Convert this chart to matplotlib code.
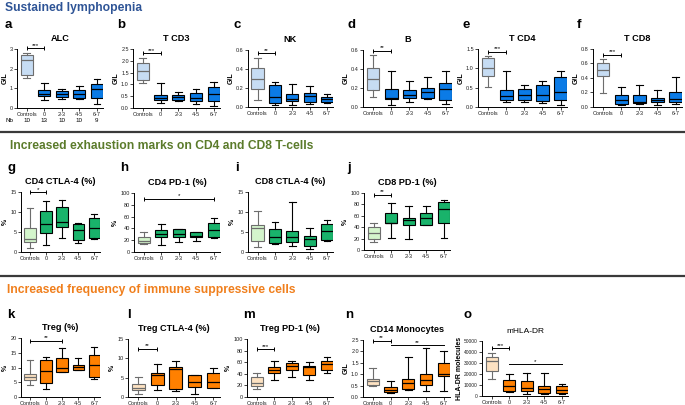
import matplotlib.pyplot as plt
from matplotlib.lines import Line2D

plt.rcParams['font.family'] = ['Liberation Sans', 'DejaVu Sans']

groups = ["Controls", "0", "2-3", "4-5", "6-7"]
nb = [10, 13, 10, 10, 9]

# five-number summaries per group: min, q1, median, q3, max
alc = [[1.55, 1.67, 2.45, 2.70, 2.78], [0.43, 0.60, 0.73, 0.94, 1.29],
       [0.48, 0.56, 0.70, 0.85, 0.99], [0.48, 0.51, 0.73, 0.90, 1.14],
       [0.19, 0.51, 0.99, 1.21, 1.48]]
t_cd3 = [[1.07, 1.18, 1.56, 1.89, 2.10], [0.21, 0.36, 0.44, 0.53, 1.08],
         [0.30, 0.33, 0.47, 0.57, 0.67], [0.18, 0.28, 0.44, 0.65, 0.82],
         [0.10, 0.28, 0.61, 0.91, 1.11]]
nk = [[0.07, 0.19, 0.30, 0.415, 0.52], [0.02, 0.045, 0.105, 0.227, 0.26],
      [0.02, 0.06, 0.084, 0.14, 0.24], [0.03, 0.05, 0.115, 0.146, 0.216],
      [0.04, 0.056, 0.087, 0.11, 0.14]]
b_cells = [[0.11, 0.18, 0.297, 0.408, 0.547], [0.02, 0.08, 0.094, 0.19, 0.38],
           [0.05, 0.10, 0.13, 0.18, 0.27], [0.087, 0.10, 0.153, 0.20, 0.32],
           [0.028, 0.077, 0.19, 0.25, 0.38]]
t_cd4 = [[0.53, 0.79, 1.00, 1.28, 1.32], [0.13, 0.19, 0.29, 0.45, 0.94],
         [0.14, 0.19, 0.32, 0.46, 0.57], [0.10, 0.15, 0.30, 0.56, 0.68],
         [0.05, 0.17, 0.39, 0.78, 0.92]]
t_cd8 = [[0.19, 0.43, 0.515, 0.60, 0.66], [0.03, 0.046, 0.09, 0.16, 0.28],
         [0.04, 0.05, 0.074, 0.16, 0.30], [0.03, 0.065, 0.10, 0.12, 0.23],
         [0.04, 0.065, 0.11, 0.21, 0.42]]
cd4_ctla4 = [[1.1, 2.53, 3.37, 6.07, 10.95], [1.85, 4.63, 7.0, 10.36, 12.8],
             [3.54, 6.15, 7.5, 11.2, 13.05], [2.36, 2.95, 5.48, 6.9, 7.33],
             [3.2, 3.62, 6.07, 8.4, 9.4]]
cd4_pd1 = [[13, 15, 19, 26, 34], [11.4, 26, 30, 37, 47], [17, 24.6, 30, 39, 39.4],
           [18, 24.6, 27.4, 33.5, 34], [24, 24.6, 37, 48.6, 57]]
cd8_ctla4 = [[1.26, 2.7, 5.9, 6.7, 10.3], [2.1, 2.27, 3.8, 5.64, 7.4],
             [1.43, 2.5, 3.8, 5.2, 12.4], [0.67, 1.5, 3.2, 4.04, 6.07],
             [2.7, 3.1, 5.2, 7.0, 8.0]]
cd8_pd1 = [[13.5, 20, 29, 40, 47], [20.6, 47, 48, 64.7, 83], [19.4, 44, 51.8, 57, 78],
           [44, 44.7, 56.5, 64.7, 76.5], [21.8, 48, 71.8, 84.7, 87]]
treg = [[4.2, 5.65, 6.8, 7.8, 12.4], [2.7, 4.75, 8.7, 12.5, 13.6],
        [8.4, 8.5, 9.8, 13.2, 16.6], [9.2, 9.3, 10.3, 11.0, 13.2],
        [6.2, 6.7, 10.8, 14.2, 16.8]]
treg_ctla4 = [[0.78, 1.72, 2.33, 3.36, 5.17], [1.9, 3.0, 5.6, 6.2, 8.6],
              [1.47, 2.16, 7.24, 7.76, 9.4], [0.78, 2.7, 3.9, 5.7, 5.78],
              [2.3, 2.33, 3.9, 6.2, 7.5]]
treg_pd1 = [[13.8, 19.5, 24, 34.5, 41.4], [29.9, 41.4, 47, 51.7, 61.5],
            [34.5, 46, 52.9, 58.6, 62.6], [28.7, 38.5, 51, 54, 60.3],
            [41.4, 46, 56.9, 62.6, 69]]
cd14 = [[0.5, 0.54, 0.68, 0.78, 1.26], [0.17, 0.23, 0.32, 0.44, 0.71],
        [0.29, 0.36, 0.61, 0.78, 1.74], [0.25, 0.54, 0.76, 1.02, 2.14],
        [0.25, 0.93, 1.02, 1.51, 2.03]]
mhla_dr = [[15900, 22900, 31700, 35100, 38700], [3700, 4270, 8800, 14900, 19800],
           [2100, 4270, 7300, 13400, 21000], [1500, 3050, 6100, 9150, 21300],
           [1500, 3050, 5200, 9150, 11300]]

BLUE = ("#c6dcf3", "#0b7be6")
GREEN = ("#d4f5cc", "#19b36b")
ORANGE = ("#fde2c2", "#ff8000")

W, H = 685, 405
fig = plt.figure(figsize=(W / 100, H / 100), dpi=100)


def px_axes(x0, y0, x1, y1):
    return fig.add_axes([x0 / W, 1 - y1 / H, (x1 - x0) / W, (y1 - y0) / H])


def sig(ax, x0, x1, y, text, caps=True):
    ax.plot([x0, x1], [y, y], color="k", lw=0.7, clip_on=False,
            marker="|" if caps else None, ms=3, mew=0.7)
    ax.annotate(text, ((x0 + x1) / 2, y), xytext=(0, 0.3), textcoords="offset points",
                ha="center", va="bottom", fontsize=4.5, annotation_clip=False)


def panel(rect, data, title, ylabel, yticks, ytl, colors, letter, lxy,
          tsize=6.6, tweight="bold"):
    ax = px_axes(*rect)
    stats = [dict(whislo=d[0], q1=d[1], med=d[2], q3=d[3], whishi=d[4], fliers=[])
             for d in data]
    bp = ax.bxp(stats, positions=range(5), widths=0.7, patch_artist=True,
                showfliers=False, capwidths=0.38)
    for i in range(5):
        edge = "#6d6d6d" if i == 0 else "k"
        bp["boxes"][i].set(facecolor=colors[0] if i == 0 else colors[1],
                           edgecolor=edge, linewidth=0.8)
        bp["medians"][i].set(color=edge, linewidth=0.9)
        for art in bp["whiskers"][2 * i:2 * i + 2] + bp["caps"][2 * i:2 * i + 2]:
            art.set(color=edge, linewidth=0.8)
    ax.set_xlim(-0.55, 4.35)
    ax.set_ylim(0, yticks[-1])
    ax.set_xticks(range(5))
    ax.set_xticklabels(groups)
    ax.set_yticks(yticks)
    ax.set_yticklabels(ytl)
    ax.tick_params(labelsize=4, length=2, width=0.6, pad=1, colors="#222")
    for s in ("top", "right"):
        ax.spines[s].set_visible(False)
    for s in ("left", "bottom"):
        ax.spines[s].set_linewidth(0.7)
    ax.set_ylabel(ylabel, fontsize=5, fontweight="bold", labelpad=1)
    ax.set_title(title, fontsize=tsize, fontweight=tweight, pad=6)
    fig.text(lxy[0] / W, 1 - lxy[1] / H, letter, fontsize=9.5, fontweight="bold",
             va="center", ha="left")
    return ax


# section headers and separators
fig.text(5 / W, 1 - 8 / H, "Sustained lymphopenia", fontsize=8.7, fontweight="bold",
         color="#2e5496", va="center")
fig.text(10 / W, 1 - 146 / H, "Increased exhaustion marks on CD4 and CD8 T-cells",
         fontsize=8.7, fontweight="bold", color="#5b7b2b", va="center")
fig.text(7 / W, 1 - 290 / H, "Increased frequency of immune suppressive cells",
         fontsize=8.7, fontweight="bold", color="#f07f1c", va="center")
for yy in (132, 276):
    fig.add_artist(Line2D([0, 1], [1 - yy / H] * 2, transform=fig.transFigure,
                          color="#3a3a3a", lw=1.6))

# row 1
ax = panel((17, 49, 103, 108), alc, "ALC", "G/L", [0, 1, 2, 3], ["0", "1", "2", "3"],
           BLUE, "a", (5, 25))
sig(ax, 0, 1, 3.03, "***")
for i, n in enumerate(nb):
    ax.text(i, -0.22, str(n), transform=ax.get_xaxis_transform(), fontsize=4.5,
            ha="center", va="center")
fig.text(5 / W, 1 - 121 / H, "Nb", fontsize=4.5, va="center")

ax = panel((133, 49, 220, 108), t_cd3, "T CD3", "G/L", [0, 0.5, 1, 1.5, 2, 2.5],
           ["0.0", "0.5", "1.0", "1.5", "2.0", "2.5"], BLUE, "b", (117, 25))
sig(ax, 0, 1, 2.32, "***")
ax = panel((248, 50, 333, 107), nk, "NK", "G/L", [0, 0.2, 0.4, 0.6],
           ["0.0", "0.2", "0.4", "0.6"], BLUE, "c", (233, 25))
sig(ax, 0, 1, 0.565, "**")
ax = panel((363, 50, 452, 107), b_cells, "B", "G/L", [0, 0.2, 0.4, 0.6],
           ["0.0", "0.2", "0.4", "0.6"], BLUE, "d", (347, 25))
sig(ax, 0, 1, 0.59, "**")
ax = panel((478, 49, 567, 107), t_cd4, "T CD4", "G/L", [0, 0.5, 1, 1.5],
           ["0.0", "0.5", "1.0", "1.5"], BLUE, "e", (462, 25))
sig(ax, 0, 1, 1.43, "***")
ax = panel((593, 49, 682, 107), t_cd8, "T CD8", "G/L", [0, 0.2, 0.4, 0.6, 0.8],
           ["0.0", "0.2", "0.4", "0.6", "0.8"], BLUE, "f", (577, 25))
sig(ax, 0, 1, 0.72, "***")

# row 2
pct100 = [0, 20, 40, 60, 80, 100]
ax = panel((21, 192, 100, 252), cd4_ctla4, "CD4 CTLA-4 (%)", "%", [0, 5, 10, 15],
           ["0", "5", "10", "15"], GREEN, "g", (7, 168))
sig(ax, 0, 1, 15, "*")
ax = panel((134, 193, 220, 252), cd4_pd1, "CD4 PD-1 (%)", "%", pct100,
           [str(v) for v in pct100], GREEN, "h", (120, 168))
sig(ax, 0, 4, 90, "*")
ax = panel((248, 192, 333, 252), cd8_ctla4, "CD8 CTLA-4 (%)", "%", [0, 5, 10, 15],
           ["0", "5", "10", "15"], GREEN, "i", (235, 168))
ax = panel((364, 193, 450, 250), cd8_pd1, "CD8 PD-1 (%)", "%", pct100,
           [str(v) for v in pct100], GREEN, "j", (347, 168))
sig(ax, 0, 1, 97, "**")

# row 3
ax = panel((21, 338, 100, 397), treg, "Treg (%)", "%", [0, 5, 10, 15, 20],
           ["0", "5", "10", "15", "20"], ORANGE, "k", (7, 315))
sig(ax, 0, 2, 19.1, "**")
ax = panel((128, 339, 220, 397), treg_ctla4, "Treg CTLA-4 (%)", "%", [0, 5, 10, 15],
           ["0", "5", "10", "15"], ORANGE, "l", (127, 315))
sig(ax, 0, 1, 12.5, "**")
ax = panel((247, 339, 333, 397), treg_pd1, "Treg PD-1 (%)", "%", pct100,
           [str(v) for v in pct100], ORANGE, "m", (243, 315))
sig(ax, 0, 1, 82.8, "***")
ax = panel((363, 340, 450, 397), cd14, "CD14 Monocytes", "G/L", [0, 0.5, 1, 1.5, 2, 2.5],
           ["0.0", "0.5", "1.0", "1.5", "2.0", "2.5"], ORANGE, "n", (345, 315))
sig(ax, 0, 1, 2.47, "**")
sig(ax, 1, 4, 2.28, "**", caps=False)
otk = [0, 10000, 20000, 30000, 40000, 50000]
ax = panel((482, 341, 568, 396), mhla_dr, "mHLA-DR", "HLA-DR molecules", otk,
           [str(v) for v in otk], ORANGE, "o", (463, 315), tsize=6.0, tweight="normal")
ax.tick_params(axis="y", labelsize=3.5)
sig(ax, 0, 1, 43300, "***")
sig(ax, 1, 4, 28700, "*", caps=False)

fig.savefig("out.png", dpi=100)
